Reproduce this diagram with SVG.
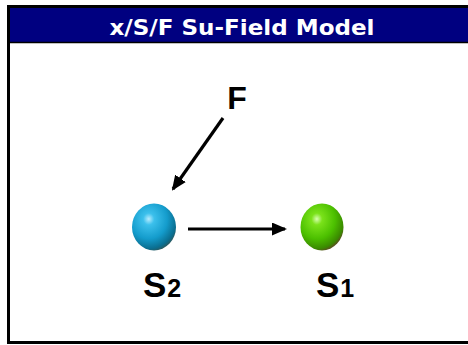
<svg xmlns="http://www.w3.org/2000/svg" width="468" height="345" viewBox="0 0 468 345">
<style>
.lbl{font-family:"Liberation Sans",Arial,sans-serif;font-weight:bold;fill:#000}
.title{font-family:"DejaVu Sans","Liberation Sans",sans-serif;font-weight:bold;fill:#fff;font-size:21px}
.conn{stroke:#000;stroke-width:3.2;fill:none}
</style>
<defs>
<radialGradient id="gb" cx="0.38" cy="0.33" r="0.7">
<stop offset="0" stop-color="#b8ecff"/>
<stop offset="0.18" stop-color="#3cc0ec"/>
<stop offset="0.6" stop-color="#149ccc"/>
<stop offset="0.9" stop-color="#0a6e90"/>
<stop offset="1" stop-color="#2a5a60"/>
</radialGradient>
<radialGradient id="gg" cx="0.38" cy="0.33" r="0.7">
<stop offset="0" stop-color="#d8ffb0"/>
<stop offset="0.18" stop-color="#7ae21a"/>
<stop offset="0.6" stop-color="#4cc000"/>
<stop offset="0.9" stop-color="#3a8a00"/>
<stop offset="1" stop-color="#5a5020"/>
</radialGradient>
<marker id="ah" markerWidth="15" markerHeight="13" refX="13" refY="6.5" orient="auto" markerUnits="userSpaceOnUse" viewBox="0 0 15 13">
<path d="M0,0 L15,6.5 L0,13 Z" fill="#000"/>
</marker>
</defs>
<rect x="0" y="0" width="468" height="345" fill="#fff"/>
<g id="frame">
<rect x="8.5" y="6.5" width="470" height="336" fill="#fff" stroke="#000" stroke-width="3"/>
<rect x="10" y="8" width="458" height="34" fill="#000080"/>
<line x1="10" y1="42.5" x2="468" y2="42.5" stroke="#000" stroke-width="1.5"/>
<text class="title" x="242" y="35" text-anchor="middle" textLength="265" lengthAdjust="spacingAndGlyphs">x/S/F Su-Field Model</text>
</g>
<g id="connectors">
<line class="conn" x1="223" y1="118" x2="173" y2="189" marker-end="url(#ah)"/>
<line class="conn" x1="188" y1="229" x2="285" y2="229" marker-end="url(#ah)"/>
</g>
<g id="node-F">
<text class="lbl" x="237" y="109" font-size="32" text-anchor="middle">F</text>
</g>
<g id="node-S2">
<ellipse cx="154" cy="227" rx="22" ry="23.5" fill="url(#gb)"/>
<text class="lbl" x="143" y="297" font-size="35">S<tspan font-size="25" dx="1">2</tspan></text>
</g>
<g id="node-S1">
<ellipse cx="322" cy="227" rx="21.5" ry="23.5" fill="url(#gg)"/>
<text class="lbl" x="316" y="297" font-size="35">S<tspan font-size="25" dx="1">1</tspan></text>
</g>
</svg>
